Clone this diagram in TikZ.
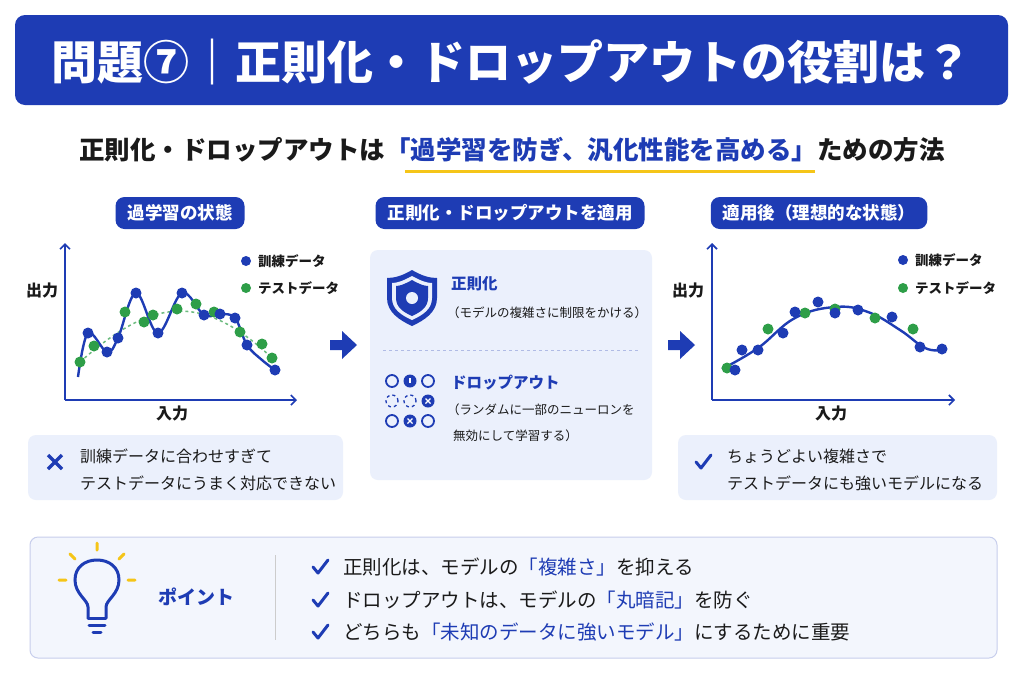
\documentclass[tikz,border=0pt]{standalone}
\usepackage{fontspec}
\setmainfont{Noto Sans CJK JP}
\usetikzlibrary{arrows.meta}
\definecolor{mb}{HTML}{1E3CB4}
\definecolor{lb}{HTML}{EBF0FC}
\definecolor{gr}{HTML}{2E9E48}
\definecolor{yl}{HTML}{F5C518}
\definecolor{tx}{HTML}{1A1A1A}
\tikzset{
 pill/.style={fill=mb,rounded corners=9pt,text=white,font=\fontsize{17.5}{20}\selectfont\bfseries,minimum height=32pt,inner xsep=12pt},
 lbox/.style={fill=lb,rounded corners=8pt},
 t/.style={anchor=west,text=tx,inner sep=0pt,font=\fontsize{16}{19}\selectfont},
 ts/.style={anchor=west,text=tx,inner sep=0pt,font=\fontsize{12.5}{15}\selectfont},
 ax/.style={mb,line width=1.6pt,-{Straight Barb[length=5pt]}},
 neu/.style={draw=mb,line width=1.8pt,circle,minimum size=12pt,inner sep=0pt},
 ckm/.style={mb,line width=3pt,line cap=round,line join=round},
}
\newcommand\bigarrow[2]{\fill[mb] (#1-12,#2-5) -- (#1,#2-5) -- (#1,#2-14) -- (#1+15,#2) -- (#1,#2+14) -- (#1,#2+5) -- (#1-12,#2+5) -- cycle;}
\newcommand\chk[2]{\draw[ckm] (#1-7,#2) -- (#1-2,#2+6) -- (#1+8,#2-7);}
\begin{document}
\begin{tikzpicture}[x=1pt,y=-1pt]
\useasboundingbox (0,0) rectangle (1024,683);
\fill[white] (0,0) rectangle (1024,683);
% title
\fill[mb,rounded corners=10pt] (15,15) rectangle (1008,105);
\node[text=white,font=\fontsize{46}{52}\selectfont\bfseries] (title) at (511,62) {問題⑦｜正則化・ドロップアウトの役割は？};
% subtitle
\draw[yl,line width=3pt] (405,171) -- (815,171);
\node[font=\fontsize{25.5}{30}\selectfont\bfseries,text=tx] (sub) at (512,150) {正則化・ドロップアウトは\textcolor{mb}{「過学習を防ぎ、汎化性能を高める」}ための方法};
% pills
\node[pill] (p1) at (180,213) {過学習の状態};
\node[pill] (p2) at (510,213) {正則化・ドロップアウトを適用};
\node[pill] (p3) at (819,213) {適用後（理想的な状態）};
% left plot
\coordinate (o1) at (65,400);
\coordinate (y1) at (65,243);
\coordinate (x1) at (297,400);
\draw[ax] (o1) -- (y1);
\draw[ax] (o1) -- (x1);
\node[font=\fontsize{16}{18}\selectfont\bfseries,text=tx] (yl1) at (42,290) {出力};
\node[font=\fontsize{16}{18}\selectfont\bfseries,text=tx] (xl1) at (172,413) {入力};
\fill[mb] (246,261) circle (5);
\node[ts,font=\fontsize{13.5}{15}\selectfont\bfseries] (lg1) at (258,261) {訓練データ};
\fill[gr] (246,288) circle (5);
\node[ts,font=\fontsize{13.5}{15}\selectfont\bfseries] (lg2) at (258,288) {テストデータ};
\draw[gr!70,dashed,line width=1.5pt] (80,362) .. controls (150,300) and (200,290) .. (272,358);
\draw[mb,line width=2.4pt] plot[smooth,tension=0.6] coordinates {(78,377) (88,333) (107,352) (118,338) (136,293) (158,333) (182,293) (204,315) (220,314) (235,318) (247,345) (262,360) (275,370)};
\foreach \p in {(80,362),(94,346),(125,312),(144,322),(153,315),(177,309),(196,304),(214,312),(240,332),(262,344),(272,358)} \fill[gr] \p circle (5.5);
\foreach \p in {(88,333),(107,352),(118,338),(136,293),(158,333),(182,293),(204,315),(220,314),(235,318),(247,345),(275,370)} \fill[mb] \p circle (5.5);
% left bottom box
\path[lbox] (28,435) rectangle (343,500);
\draw[mb,line width=3.5pt] (48,455) -- (62,469) (62,455) -- (48,469);
\node[t] (lt1) at (80,456) {訓練データに合わせすぎて};
\node[t] (lt2) at (80,483) {テストデータにうまく対応できない};
% arrows
\bigarrow{342}{345}
\bigarrow{680}{345}
% middle box
\path[lbox] (370,250) rectangle (652,480);
\fill[mb] (412,270) .. controls (422,276) and (430,278) .. (437,278) -- (437,298) .. controls (437,312) and (425,320) .. (412,326) .. controls (399,320) and (387,312) .. (387,298) -- (387,278) .. controls (394,278) and (402,276) .. (412,270) -- cycle;
\fill[lb] (412,276) .. controls (421,281) and (427,283) .. (432,283) -- (432,298) .. controls (432,309) and (423,315) .. (412,320) .. controls (401,315) and (392,309) .. (392,298) -- (392,283) .. controls (397,283) and (403,281) .. (412,276) -- cycle;
\fill[mb] (412,280) .. controls (419,284) and (424,286) .. (428,286) -- (428,298) .. controls (428,307) and (421,312) .. (412,316) .. controls (403,312) and (396,307) .. (396,298) -- (396,286) .. controls (400,286) and (405,284) .. (412,280) -- cycle;
\fill[lb] (412,298) circle (6);
\node[ts,font=\fontsize{15.5}{18}\selectfont\bfseries,text=mb] (reg) at (451,284) {正則化};
\node[ts] (regd) at (447,313) {（モデルの複雑さに制限をかける）};
\draw[mb!35,dashed,line width=1pt] (383,350) -- (640,350);
\foreach \x/\y/\k in {392/381/a,428/381/c,392/421/g,428/421/i} \node[neu] (n\k) at (\x,\y) {};
\node[neu,dashed,line width=1.3pt] (nd) at (392,401) {};
\node[neu,dashed,line width=1.3pt] (ne) at (410,401) {};
\foreach \x/\y in {428/401,410/421,410/381} \fill[mb] (\x,\y) circle (6.5);
\draw[white,line width=1.3pt] (425.5,398.5) -- (430.5,403.5) (430.5,398.5) -- (425.5,403.5);
\draw[white,line width=1.3pt] (407.5,418.5) -- (412.5,423.5) (412.5,418.5) -- (407.5,423.5);
\draw[white,line width=1.2pt] (410,378) -- (410,383);
\node[ts,font=\fontsize{15.5}{18}\selectfont\bfseries,text=mb] (dro) at (451,383) {ドロップアウト};
\node[ts] (drd1) at (447,410) {（ランダムに一部のニューロンを};
\node[ts] (drd2) at (453,436) {無効にして学習する）};
% right plot
\coordinate (o2) at (712,400);
\coordinate (y2) at (712,243);
\coordinate (x2) at (955,400);
\draw[ax] (o2) -- (y2);
\draw[ax] (o2) -- (x2);
\node[font=\fontsize{16}{18}\selectfont\bfseries,text=tx] (yl2) at (688,290) {出力};
\node[font=\fontsize{16}{18}\selectfont\bfseries,text=tx] (xl2) at (831,413) {入力};
\fill[mb] (903,260) circle (5);
\node[ts,font=\fontsize{13.5}{15}\selectfont\bfseries] (lg3) at (915,260) {訓練データ};
\fill[gr] (903,288) circle (5);
\node[ts,font=\fontsize{13.5}{15}\selectfont\bfseries] (lg4) at (915,288) {テストデータ};
\draw[mb,line width=2.4pt] plot[smooth,tension=0.7] coordinates {(722,369) (758,348) (795,318) (835,307) (868,312) (900,330) (925,348) (942,350)};
\foreach \p in {(727,368),(768,329),(805,313),(835,309),(875,318),(913,329)} \fill[gr] \p circle (5.5);
\foreach \p in {(742,350),(758,350),(795,312),(835,313),(858,310),(892,317),(920,347),(942,349),(783,333),(818,302),(735,370)} \fill[mb] \p circle (5.5);
% right bottom box
\path[lbox] (678,435) rectangle (997,500);
\chk{703}{462}
\node[t] (rt1) at (727,456) {ちょうどよい複雑さで};
\node[t] (rt2) at (727,483) {テストデータにも強いモデルになる};
% bottom box
\draw[mb!25,fill=lb!60,rounded corners=8pt,line width=1pt] (30,537) rectangle (997,658);
% bulb
\draw[mb,line width=3pt] (88,618) -- (88,607) .. controls (88,600) and (75,594) .. (75,580) .. controls (75,567) and (85,560) .. (97,560) .. controls (109,560) and (119,567) .. (119,580) .. controls (119,594) and (106,600) .. (106,607) -- (106,618);
\draw[mb,line width=3pt,line cap=round] (88,618) -- (106,618) (89,625) -- (105,625) (93,632) -- (101,632);
\draw[yl,line width=3pt,line cap=round] (97,543) -- (97,550) (70,554) -- (75,559) (124,554) -- (119,559) (59,580) -- (66,580) (128,580) -- (135,580);
\node[ts,font=\fontsize{19}{22}\selectfont\bfseries,text=mb] (pt) at (158,597) {ポイント};
\draw[gray!40,line width=1pt] (275,555) -- (275,640);
\chk{320}{567}
\chk{320}{600}
\chk{320}{632}
\node[t,font=\fontsize{19.5}{22}\selectfont] (b1) at (343,567) {正則化は、モデルの\textcolor{mb}{「複雑さ」}を抑える};
\node[t,font=\fontsize{19.5}{22}\selectfont] (b2) at (343,600) {ドロップアウトは、モデルの\textcolor{mb}{「丸暗記」}を防ぐ};
\node[t,font=\fontsize{19.5}{22}\selectfont] (b3) at (343,632) {どちらも\textcolor{mb}{「未知のデータに強いモデル」}にするために重要};
\end{tikzpicture}
\end{document}
